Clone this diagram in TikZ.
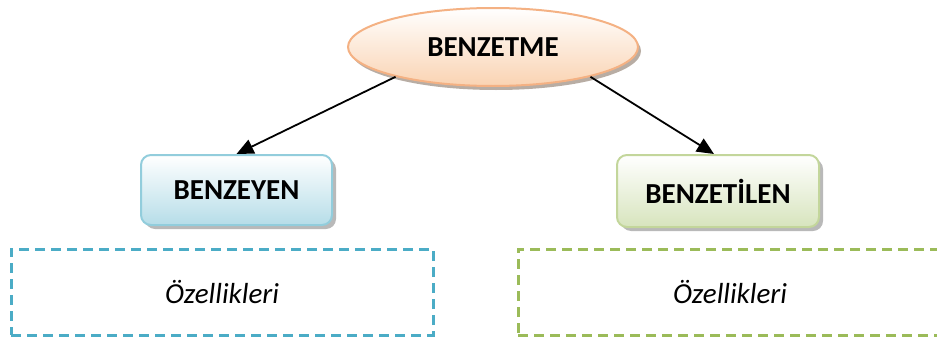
\documentclass[tikz,border=0pt]{standalone}
\usepackage{fontspec}
\setmainfont{Carlito}
\usetikzlibrary{arrows.meta,shapes.geometric}
\definecolor{orfill}{HTML}{FAD3B2}
\definecolor{orline}{HTML}{F4B183}
\definecolor{bluefill}{HTML}{B6DDE8}
\definecolor{blueline}{HTML}{92CDDC}
\definecolor{grnfill}{HTML}{D7E4BD}
\definecolor{grnline}{HTML}{C3D69B}
\definecolor{bluedash}{HTML}{4BACC6}
\definecolor{grndash}{HTML}{9BBB59}
\definecolor{extr}{HTML}{B8ADA4}
\begin{document}
\begin{tikzpicture}[x=1pt,y=-1pt,
  hdr/.style={font=\fontsize{29}{32}\selectfont\bfseries, text=black},
  topnode/.style={ellipse, draw=orline, line width=2pt, top color=white, bottom color=orfill, minimum width=290pt, minimum height=78pt, inner sep=0pt, hdr},
  box/.style={rounded corners=10pt, line width=2pt, minimum height=70pt, inner sep=0pt, hdr},
  dashbox/.style={line width=3pt, dash pattern=on 10pt off 6pt, minimum height=86pt, minimum width=422pt, inner sep=0pt, font=\fontsize{29}{32}\selectfont\itshape},
  arr/.style={line width=1.8pt, -{Triangle[length=17pt,width=15pt]}}
]
\clip (0,0) rectangle (937,340);
% extrusions
\fill[extr] (496,51) ellipse [x radius=145pt, y radius=39pt];
\fill[rounded corners=10pt, gray!55] (145,159) rectangle (336,229);
\fill[rounded corners=10pt, gray!55] (621,159) rectangle (823,231);
% main nodes
\node[topnode] (e) at (493,47) {BENZETME};
\node[box, draw=blueline, top color=white, bottom color=bluefill, minimum width=191pt] (b1) at (236.5,190) {BENZEYEN};
\node[box, draw=grnline, top color=white, bottom color=grnfill, minimum width=202pt, minimum height=72pt] (b2) at (718,191) {BENZET\.{I}LEN};
% dashed boxes
\node[dashbox, draw=bluedash] (d1) at (222,292) {\raisebox{-3pt}{Özellikleri}};
\node[dashbox, draw=grndash, minimum width=424pt] (d2) at (730,292) {\raisebox{-3pt}{Özellikleri}};
% arrows
\draw[arr] (e.197) -- (b1.north);
\draw[arr] (e.-17) -- ([xshift=-4pt]b2.north);
\end{tikzpicture}
\end{document}
